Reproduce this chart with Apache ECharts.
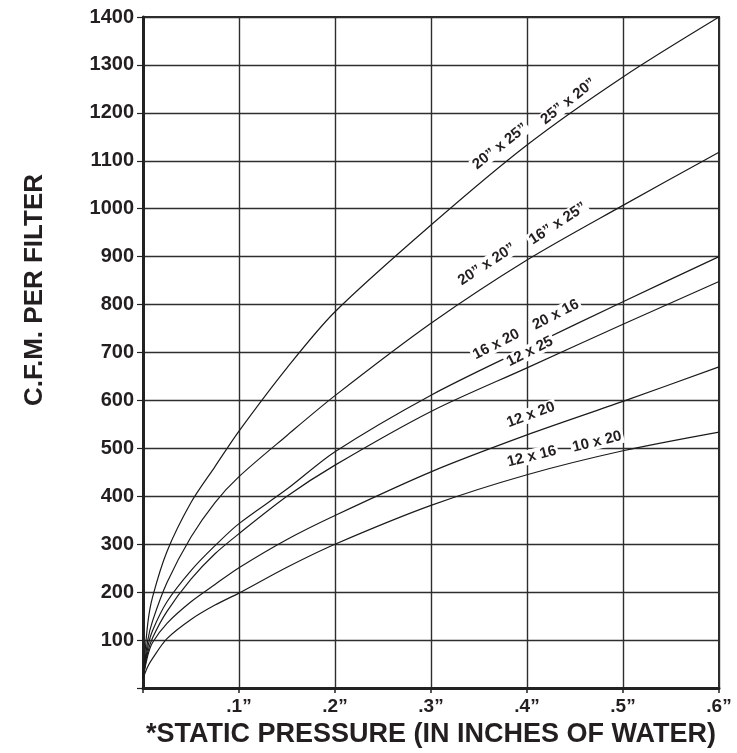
<!DOCTYPE html>
<html>
<head>
<meta charset="utf-8">
<script src="https://cdn.jsdelivr.net/npm/echarts@6/dist/echarts.min.js"></script>
<style>
  html, body { margin: 0; padding: 0; background: #ffffff; }
  #chart { width: 737px; height: 753px; }
</style>
</head>
<body>
<div id="chart"></div>
<script>
// Static pressure (inches of water)
const pressure = [0, 0.005, 0.01, 0.025, 0.05, 0.075, 0.1, 0.15, 0.2, 0.3, 0.4, 0.5, 0.6];
// C.F.M. per filter for each filter size curve
const cfm20x25 = [20, 135, 190, 285, 387, 462, 536, 668, 785, 966, 1133, 1275, 1400];
const cfm20x20 = [20, 100, 140, 220, 315, 387, 441, 527, 610, 761, 893, 1007, 1118];
const cfm16x20 = [20, 85, 120, 180, 245, 297, 343, 415, 493, 611, 710, 806, 900];
const cfm12x25 = [20, 75, 105, 160, 227, 280, 322, 400, 465, 577, 668, 759, 848];
const cfm12x20 = [20, 68, 95, 135, 180, 216, 251, 310, 360, 451, 528, 598, 670];
const cfm12x16 = [20, 45, 62, 103, 143, 173, 198, 252, 300, 381, 445, 495, 534];

// Axis tick labels
const xTickValues = [0.1, 0.2, 0.3, 0.4, 0.5, 0.6];
const xTickLabels = ['.1\u201D', '.2\u201D', '.3\u201D', '.4\u201D', '.5\u201D', '.6\u201D'];
const yTickValues = [100, 200, 300, 400, 500, 600, 700, 800, 900, 1000, 1100, 1200, 1300, 1400];

// Curve labels: text, pressure, cfm anchor (data coords)
const curveLabels = [
  [['20\u201D x 25\u201D', 0.372, 1130], ['25\u201D x 20\u201D', 0.443, 1224]],
  [['20\u201D x 20\u201D', 0.358, 884], ['16\u201D x 25\u201D', 0.432, 969]],
  [['16 x 20', 0.368, 717], ['20 x 16', 0.430, 779]],
  [['12 x 25', 0.403, 702]],
  [['12 x 20', 0.404, 570]],
  [['12 x 16', 0.405, 483], ['10 x 20', 0.473, 514]]
];
const labelAngles = [38, 33, 27, 27, 20, 14];

const seriesValues = [cfm20x25, cfm20x20, cfm16x20, cfm12x25, cfm12x20, cfm12x16];

const FONT = '"Liberation Sans", Arial, Helvetica, sans-serif';
const INK = '#231f20';

const chart = echarts.init(document.getElementById('chart'), null, { renderer: 'canvas' });

const series = seriesValues.map((vals, si) => ({
  type: 'line',
  data: pressure.map((p, i) => [p, vals[i]]),
  smooth: 0.3,
  showSymbol: false,
  symbol: 'none',
  clip: true,
  lineStyle: { color: '#1b1b1b', width: 1.2 },
  z: 3,
  markPoint: {
    symbol: 'circle',
    symbolSize: 1,
    itemStyle: { color: 'rgba(0,0,0,0)' },
    silent: true,
    data: curveLabels[si].map(l => ({
      coord: [l[1], l[2]],
      label: {
        show: true,
        position: 'inside',
        formatter: l[0],
        rotate: labelAngles[si],
        fontFamily: FONT,
        fontWeight: 'bold',
        fontSize: 15,
        color: INK,
        backgroundColor: '#ffffff',
        padding: [0, 2, 0, 2]
      }
    }))
  }
}));

const option = {
  backgroundColor: '#ffffff',
  animation: false,
  grid: {
    left: 143, right: 18, top: 17, bottom: 65,
    show: true, borderColor: '#2b2b2b', borderWidth: 2, backgroundColor: 'transparent'
  },
  xAxis: {
    type: 'value',
    min: 0, max: 0.6, interval: 0.1,
    name: '*STATIC PRESSURE (IN INCHES OF WATER)',
    nameLocation: 'middle',
    nameGap: 30,
    nameTextStyle: { fontFamily: FONT, fontWeight: 'bold', fontSize: 27, color: INK },
    axisLine: { show: true, lineStyle: { color: '#222', width: 3 } },
    axisTick: { show: true, length: 5, lineStyle: { color: '#222', width: 1.5 } },
    axisLabel: {
      margin: 9,
      fontFamily: FONT, fontWeight: 'bold', fontSize: 19, color: INK,
      formatter: v => {
        const i = xTickValues.findIndex(t => Math.abs(t - v) < 1e-9);
        return i >= 0 ? xTickLabels[i] : '';
      }
    },
    splitLine: { show: true, lineStyle: { color: '#2e2e2e', width: 1.4 } }
  },
  yAxis: {
    type: 'value',
    min: 0, max: 1400, interval: 100,
    axisLine: { show: true, lineStyle: { color: '#222', width: 3 } },
    axisTick: { show: true, length: 6, lineStyle: { color: '#222', width: 1.2 } },
    axisLabel: {
      margin: 9,
      fontFamily: FONT, fontWeight: 'bold', fontSize: 20, color: INK,
      formatter: v => (yTickValues.indexOf(v) >= 0 ? String(v) : '')
    },
    splitLine: { show: true, lineStyle: { color: '#2e2e2e', width: 1.4 } }
  },
  graphic: [{
    type: 'text',
    x: 35, y: 290,
    rotation: Math.PI / 2,
    style: {
      text: 'C.F.M. PER FILTER',
      font: 'bold 26px ' + FONT,
      fill: INK,
      textAlign: 'center',
      textVerticalAlign: 'middle'
    }
  }],
  series: series
};

chart.setOption(option);
</script>
</body>
</html>
